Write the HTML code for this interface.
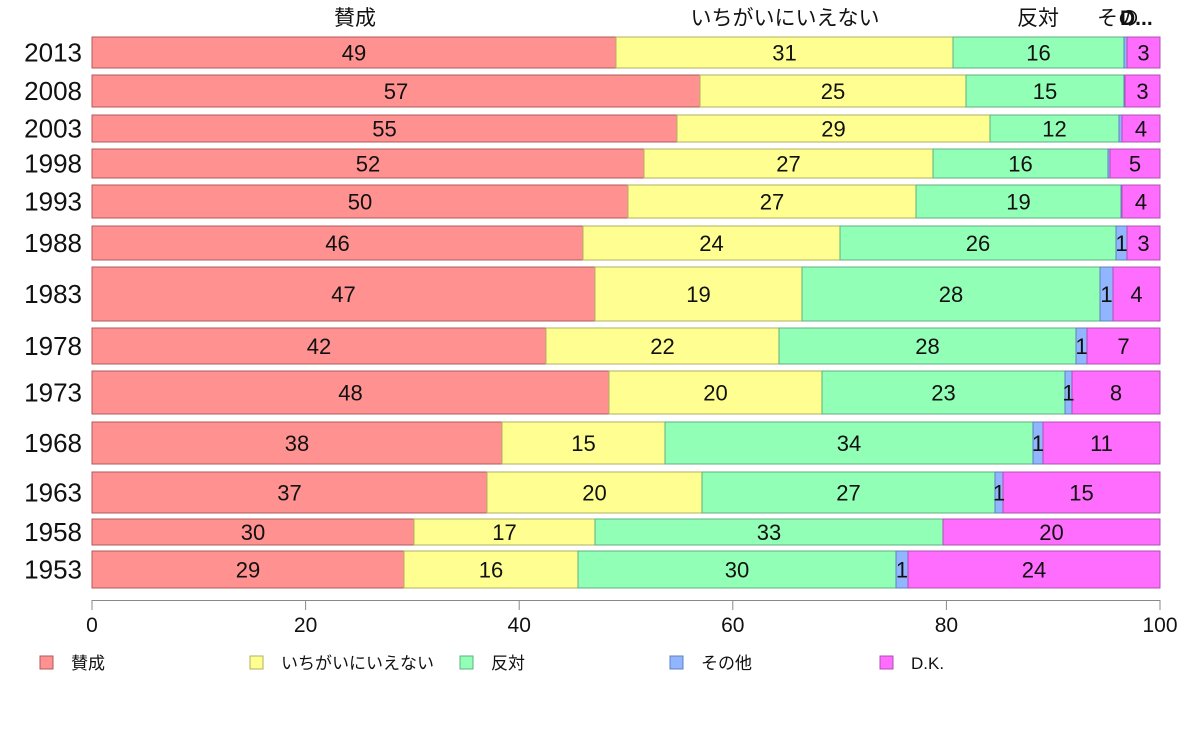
<!DOCTYPE html>
<html><head><meta charset="utf-8">
<style>
html,body{margin:0;padding:0;background:#fff;}
svg text{font-family:"Liberation Sans","Noto Sans CJK JP",sans-serif;fill:#111;}
</style></head><body>
<svg id="c" width="1188" height="736" viewBox="0 0 1188 736" xmlns="http://www.w3.org/2000/svg"></svg>
<script>
const rows=[
["2013",37,68,[616,953,1124,1127],["49","31","16","","3"]],
["2008",75,107,[700,966,1124,1125],["57","25","15","","3"]],
["2003",115,142,[677,990,1119,1122],["55","29","12","","4"]],
["1998",149,178,[644,933,1108,1110],["52","27","16","","5"]],
["1993",185,218,[628,916,1121,1122],["50","27","19","","4"]],
["1988",226,260,[583,840,1116,1127],["46","24","26","1","3"]],
["1983",267,321,[595,802,1100,1113],["47","19","28","1","4"]],
["1978",328,364,[546,779,1076,1087],["42","22","28","1","7"]],
["1973",371,414,[609,822,1065,1072],["48","20","23","1","8"]],
["1968",422,464,[502,665,1033,1043],["38","15","34","1","11"]],
["1963",472,513,[487,702,995,1003],["37","20","27","1","15"]],
["1958",519,545,[414,595,943,943],["30","17","33","","20"]],
["1953",551,588,[404,578,896,908],["29","16","30","1","24"]]];
const fill=["#ff9191","#ffff91","#91ffb6","#91b6ff","#ff6dff"];
const strk=["#b05a5a","#b0b060","#60b080","#6080c0","#b050b0"];
let s="";
for(const [y,t,b,bd,lb] of rows){
  const xs=[92,...bd,1160];
  s+=`<text x="82" y="${(t+b)/2+9}" font-size="26" text-anchor="end">${y}</text>`;
  for(let i=0;i<5;i++){
    const w=xs[i+1]-xs[i];
    if(w>0) s+=`<rect x="${xs[i]}" y="${t}" width="${w}" height="${b-t}" fill="${fill[i]}" stroke="${strk[i]}" stroke-width="1"/>`;
  }
  for(let i=0;i<5;i++){
    if(!lb[i])continue;
    s+=`<text x="${(xs[i]+xs[i+1])/2}" y="${(t+b)/2+8}" font-size="22" text-anchor="middle">${lb[i]}</text>`;
  }
}
s+=`<text x="355" y="25" font-size="21" text-anchor="middle">賛成</text>`;
s+=`<text x="785" y="25" font-size="21" text-anchor="middle">いちがいにいえない</text>`;
s+=`<text x="1038" y="25" font-size="21" text-anchor="middle">反対</text>`;
s+=`<text x="1097" y="25" font-size="21">その</text><text x="1120" y="25" font-size="21" font-weight="bold">D...</text>`;
s+=`<line x1="92" y1="600.5" x2="1160" y2="600.5" stroke="#888"/>`;
for(let v=0;v<=100;v+=20){const x=92+v*10.68;
 s+=`<line x1="${x}" y1="600" x2="${x}" y2="610" stroke="#888"/><text x="${x}" y="632" font-size="21" text-anchor="middle">${v}</text>`;}
const lg=[[40,"賛成"],[250,"いちがいにいえない"],[460,"反対"],[670,"その他"],[880,"D.K."]];
lg.forEach(([x,t],i)=>{s+=`<rect x="${x}" y="656" width="13" height="13" fill="${fill[i]}" stroke="${strk[i]}"/><text x="${x+31}" y="669" font-size="17">${t}</text>`;});
document.getElementById("c").innerHTML=s;
</script>
</body></html>
